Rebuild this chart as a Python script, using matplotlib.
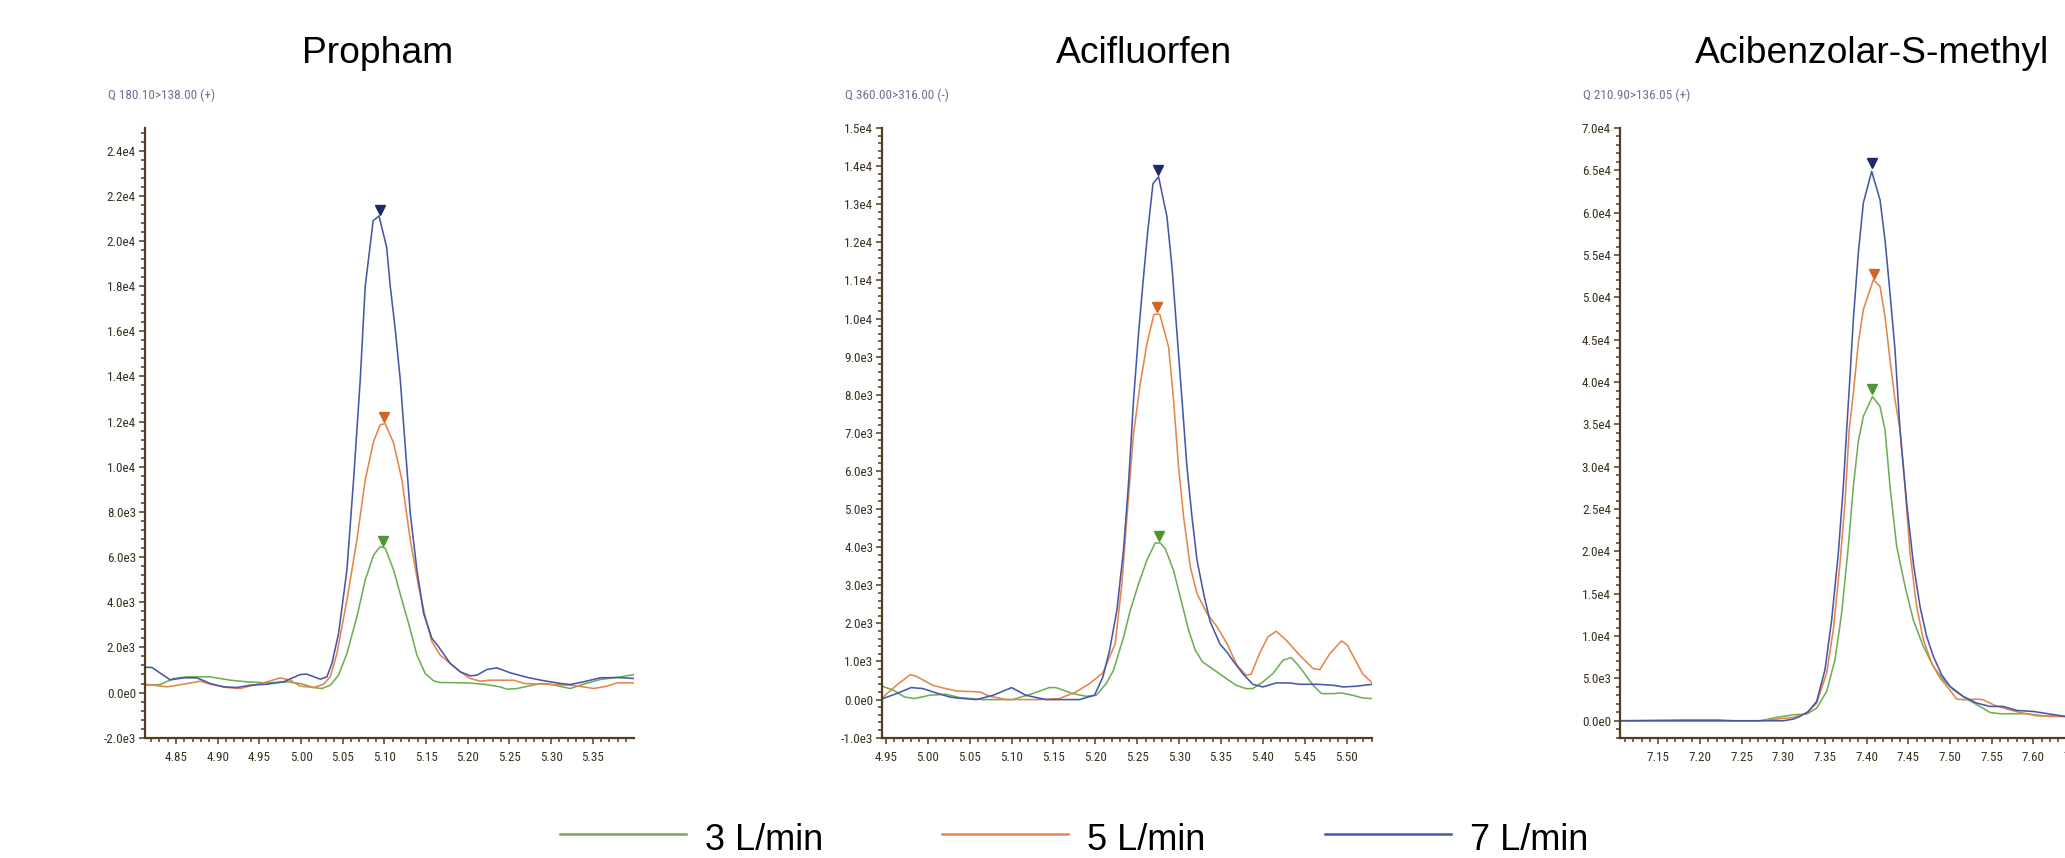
import math
import matplotlib
matplotlib.use("Agg")
import matplotlib.pyplot as plt
from matplotlib import font_manager as fm
from matplotlib.font_manager import FontProperties
from matplotlib.lines import Line2D
from matplotlib.textpath import text_to_path
from matplotlib.ticker import MultipleLocator, FuncFormatter

# ---- data (retention time, intensity) ----
titles = ["Propham", "Acifluorfen", "Acibenzolar-S-methyl"]
transitions = ["Q 180.10>138.00 (+)", "Q 360.00>316.00 (-)", "Q 210.90>136.05 (+)"]
flow_labels = ["3 L/min", "5 L/min", "7 L/min"]

# Propham
p1_x_green = [4.8127, 4.831, 4.847, 4.863, 4.891, 4.915, 4.935, 4.959, 4.983, 4.999, 5.015, 5.025, 5.035,
              5.045, 5.055, 5.067, 5.077, 5.087, 5.095, 5.101, 5.111, 5.121, 5.129, 5.139, 5.149, 5.159,
              5.167, 5.199, 5.219, 5.239, 5.247, 5.259, 5.287, 5.299, 5.323, 5.339, 5.359, 5.379, 5.40]
p1_y_green = [325, 355, 621, 695, 695, 547, 473, 429, 473, 399, 222, 177, 325,
              769, 1730, 3357, 4984, 6093, 6463, 6389, 5428, 4097, 3062, 1656, 843, 518,
              444, 429, 370, 251, 148, 177, 399, 370, 178, 370, 578, 666, 800]
p1_x_orange = [4.8127, 4.839, 4.859, 4.879, 4.891, 4.911, 4.927, 4.943, 4.959, 4.975, 4.987, 4.999, 5.015,
               5.027, 5.035, 5.043, 5.055, 5.067, 5.077, 5.087, 5.095, 5.101, 5.111, 5.121, 5.131, 5.141,
               5.149, 5.157, 5.167, 5.179, 5.191, 5.203, 5.215, 5.227, 5.255, 5.268, 5.292, 5.323, 5.339,
               5.351, 5.367, 5.379, 5.40]
p1_y_orange = [370, 251, 370, 503, 370, 222, 177, 325, 473, 651, 547, 281, 222,
               370, 695, 1730, 4097, 6759, 9421, 11122, 11861, 11906, 11048, 9421, 6759, 4688,
               3357, 2248, 1656, 1287, 917, 621, 503, 547, 547, 399, 370, 326, 252,
               178, 281, 429, 429]
p1_x_blue = [4.8127, 4.821, 4.843, 4.859, 4.875, 4.891, 4.907, 4.923, 4.939, 4.959, 4.979, 4.999, 5.007,
             5.023, 5.031, 5.037, 5.045, 5.055, 5.063, 5.071, 5.077, 5.0865, 5.0935, 5.1026, 5.107, 5.113,
             5.119, 5.125, 5.131, 5.139, 5.147, 5.157, 5.165, 5.179, 5.191, 5.203, 5.211, 5.223, 5.235,
             5.251, 5.272, 5.292, 5.312, 5.323, 5.339, 5.359, 5.379, 5.40]
p1_y_blue = [1120, 1109, 560, 651, 651, 400, 251, 222, 325, 370, 473, 799, 813,
             592, 695, 1287, 2618, 5428, 9421, 13858, 18000, 20900, 21100, 19733, 18000, 16077,
             13858, 10900, 7942, 5428, 3505, 2396, 2026, 1287, 917, 740, 769, 1021, 1094,
             873, 666, 518, 399, 355, 474, 652, 666, 622]

# Acifluorfen
p2_x_green = [4.9456, 4.959, 4.972, 4.984, 5.002, 5.022, 5.038, 5.066, 5.101, 5.125, 5.145, 5.153, 5.173,
              5.189, 5.201, 5.213, 5.2217, 5.2337, 5.2417, 5.2516, 5.2616, 5.2715, 5.2775, 5.2835, 5.2934,
              5.3014, 5.3114, 5.3194, 5.328, 5.348, 5.368, 5.380, 5.388, 5.400, 5.412, 5.424, 5.434,
              5.444, 5.460, 5.470, 5.484, 5.494, 5.507, 5.519, 5.5307]
p2_y_green = [350, 245, 70, 26, 114, 140, 52, 0, 0, 157, 315, 315, 157,
              87, 114, 420, 770, 1640, 2340, 3040, 3660, 4110, 4110, 3960, 3390,
              2690, 1820, 1290, 989, 682, 376, 289, 289, 464, 682, 1032, 1102,
              857, 376, 157, 157, 175, 114, 44, 26]
p2_x_orange = [4.9456, 4.9626, 4.979, 4.986, 5.006, 5.018, 5.034, 5.062, 5.074, 5.094, 5.133, 5.157, 5.177,
               5.193, 5.209, 5.2237, 5.2317, 5.2377, 5.2456, 5.2536, 5.2616, 5.270, 5.277, 5.2875, 5.2934,
               5.2994, 5.3054, 5.3134, 5.3214, 5.3333, 5.3453, 5.3572, 5.3692, 5.380, 5.386, 5.396, 5.406,
               5.416, 5.428, 5.444, 5.460, 5.468, 5.480, 5.494, 5.501, 5.519, 5.5307]
p2_y_orange = [50, 376, 656, 612, 376, 306, 227, 201, 87, 0, 0, 26, 201,
               420, 700, 1470, 3040, 4790, 6980, 8290, 9340, 10110, 10110, 9250, 7860,
               6100, 4790, 3480, 2780, 2260, 1910, 1470, 900, 639, 665, 1207, 1645,
               1794, 1557, 1164, 814, 787, 1207, 1540, 1426, 682, 437]
p2_x_blue = [4.9456, 4.9626, 4.980, 4.994, 5.010, 5.026, 5.034, 5.058, 5.078, 5.100, 5.117, 5.141, 5.181,
             5.199, 5.209, 5.217, 5.2257, 5.2336, 5.2396, 5.2456, 5.2516, 5.2568, 5.2623, 5.2688, 5.2755,
             5.2855, 5.2915, 5.2975, 5.3035, 5.3094, 5.3154, 5.3214, 5.3293, 5.337, 5.349, 5.357, 5.364,
             5.376, 5.388, 5.400, 5.416, 5.432, 5.444, 5.464, 5.484, 5.496, 5.511, 5.5307]
p2_y_blue = [20, 157, 315, 289, 175, 70, 44, 0, 114, 315, 114, 0, 0,
             114, 595, 1295, 2340, 3920, 5670, 7860, 9610, 10920, 12230, 13540, 13720,
             12670, 11350, 9610, 7860, 6100, 4790, 3660, 2780, 2050, 1450, 1250, 1032,
             682, 402, 332, 437, 437, 402, 402, 376, 332, 350, 402]

# Acibenzolar-S-methyl
p3_x_green = [7.104, 7.184, 7.22, 7.24, 7.272, 7.292, 7.312, 7.328, 7.34, 7.352, 7.362, 7.37, 7.378,
              7.384, 7.390, 7.396, 7.407, 7.416, 7.422, 7.428, 7.436, 7.446, 7.456, 7.468, 7.48,
              7.492, 7.504, 7.52, 7.536, 7.548, 7.56, 7.592, 7.612, 7.638, 7.69]
p3_y_green = [0, 118, 118, 0, 0, 394, 709, 787, 1496, 3465, 7205, 12717, 20591,
              27677, 33000, 35940, 38300, 37120, 34370, 27700, 20600, 15900, 11900, 8780, 6420,
              4840, 3660, 2560, 1690, 980, 830, 830, 590, 510, 400]
p3_x_orange = [7.104, 7.272, 7.292, 7.312, 7.328, 7.34, 7.352, 7.36, 7.368, 7.374, 7.379, 7.384, 7.390,
               7.396, 7.408, 7.416, 7.422, 7.428, 7.434, 7.440, 7.446, 7.452, 7.46, 7.468, 7.478,
               7.488, 7.498, 7.508, 7.518, 7.532, 7.54, 7.552, 7.568, 7.584, 7.604, 7.62, 7.638, 7.69]
p3_y_orange = [0, 0, 197, 394, 905, 2087, 5630, 10748, 18622, 25708, 34370, 38700, 44610,
               48540, 52080, 51300, 47750, 42640, 37910, 34370, 27700, 19800, 13500, 9570, 6810,
               5040, 3860, 2560, 2480, 2560, 2480, 1890, 1380, 980, 590, 510, 510, 450]
p3_x_blue = [7.104, 7.30, 7.312, 7.32, 7.33, 7.34, 7.35, 7.358, 7.366, 7.372, 7.376, 7.380, 7.384,
             7.390, 7.396, 7.406, 7.416, 7.422, 7.428, 7.434, 7.440, 7.448, 7.456, 7.464, 7.472,
             7.48, 7.49, 7.50, 7.516, 7.532, 7.548, 7.564, 7.58, 7.60, 7.62, 7.638, 7.66, 7.69]
p3_y_blue = [0, 0, 197, 512, 1102, 2283, 6024, 11929, 19803, 27677, 34370, 40670, 47360,
             55240, 61140, 64880, 61530, 56810, 50510, 43820, 34370, 25700, 18600, 13500, 9960,
             7600, 5430, 4060, 2870, 2090, 1690, 1690, 1220, 1100, 790, 510, 350, 300]

# apex markers (x, y) per panel, order green / orange / blue
apex_x = [[5.098, 5.099, 5.095], [5.2755, 5.2735, 5.2747], [7.407, 7.409, 7.406]]
apex_y = [[6690, 12180, 21360], [4290, 10290, 13910], [39180, 52790, 65870]]

panel_xlim = [(4.8127, 5.3995), (4.9456, 5.5307), (7.104, 7.692)]
panel_ylim = [(-2000, 25000), (-1000, 15000), (-2000, 70000)]
panel_ystep = [2000, 1000, 5000]

line_colors = ["#6fae55", "#e5854c", "#4757a8"]
marker_colors = ["#4f9535", "#d06622", "#1b2a68"]
AXIS_COLOR = "#4d3f1e"
LABEL_COLOR = "#3b3120"
Q_COLOR = "#6f6f93"
SANS = ["Liberation Sans", "Arial", "DejaVu Sans"]

W, H = 2065, 858


def narrow_font():
    # the chromatogram software uses a condensed face; take one if installed
    wanted = ["Liberation Sans Narrow", "Arial Narrow", "DejaVu Sans Condensed",
              "Roboto Condensed", "Open Sans Condensed", "Noto Sans Condensed"]
    entries = fm.fontManager.ttflist
    names = {f.name for f in entries}
    for n in wanted:
        if n in names:
            return FontProperties(family=n)
    for f in entries:
        if (f.stretch in ("condensed", "semi-condensed") and f.style == "normal"
                and f.weight in (400, "normal", "regular", "book")
                and any(k in f.name for k in ("Sans", "Roboto", "Lato", "Inter"))):
            return FontProperties(fname=f.fname)
    return FontProperties(family="Liberation Sans")


def fit_size(prop, text, target_px, max_pt):
    p = prop.copy()
    p.set_size(10)
    w, _, _ = text_to_path.get_text_width_height_descent(text, p, ismath=False)
    w_px = w * 100 / 72
    return min(max_pt, 10 * target_px / w_px)


def sci_label(v, pos=None):
    v = round(v)
    if v == 0:
        return "0.0e0"
    e = int(math.floor(math.log10(abs(v))))
    return f"{v / 10 ** e:.1f}e{e}"


def style_axis(ax, xlim, ylim, ystep, tick_prop):
    ax.set_xlim(*xlim)
    ax.set_ylim(*ylim)
    for side in ("top", "right"):
        ax.spines[side].set_visible(False)
    for side in ("left", "bottom"):
        ax.spines[side].set_color(AXIS_COLOR)
        ax.spines[side].set_linewidth(1.6)
    ax.xaxis.set_major_locator(MultipleLocator(0.05))
    ax.xaxis.set_minor_locator(MultipleLocator(0.01))
    ax.yaxis.set_major_locator(MultipleLocator(ystep))
    ax.yaxis.set_minor_locator(MultipleLocator(ystep / 5))
    ax.xaxis.set_major_formatter(FuncFormatter(lambda v, p: f"{v:.2f}"))
    ax.yaxis.set_major_formatter(FuncFormatter(sci_label))
    ax.tick_params(which="both", direction="out", color=AXIS_COLOR, width=1.1)
    ax.tick_params(which="major", length=4.5)
    ax.tick_params(which="minor", length=3)
    ax.tick_params(axis="x", which="major", pad=5)
    ax.tick_params(axis="y", which="major", pad=2)
    for lab in ax.get_xticklabels() + ax.get_yticklabels():
        lab.set_fontproperties(tick_prop)
        lab.set_color(LABEL_COLOR)


def main():
    base = narrow_font()
    tick_prop = base.copy()
    tick_prop.set_size(fit_size(base, "0.0e0", 29, 10.5))
    q_prop = base.copy()
    q_prop.set_size(fit_size(base, transitions[0], 108, 10.5))

    fig = plt.figure(figsize=(W / 100, H / 100), dpi=100)

    series = [
        [(p1_x_green, p1_y_green), (p1_x_orange, p1_y_orange), (p1_x_blue, p1_y_blue)],
        [(p2_x_green, p2_y_green), (p2_x_orange, p2_y_orange), (p2_x_blue, p2_y_blue)],
        [(p3_x_green, p3_y_green), (p3_x_orange, p3_y_orange), (p3_x_blue, p3_y_blue)],
    ]
    lefts = [145, 882.3, 1620]
    widths = [489, 490, 490]
    title_cx = [378, 1144, 1871.7]
    ax_bottom, ax_top = 737.7, 128

    for i in range(3):
        ax = fig.add_axes([lefts[i] / W, (H - ax_bottom) / H, widths[i] / W, (ax_bottom - ax_top) / H])
        ax.patch.set_alpha(0)
        for (xs, ys), c in zip(series[i], line_colors):
            ax.plot(xs, ys, color=c, lw=1.15)
        for k in range(3):
            ax.plot(apex_x[i][k], apex_y[i][k], marker="v", ms=7, color=marker_colors[k],
                    mec=marker_colors[k], ls="none")
        style_axis(ax, panel_xlim[i], panel_ylim[i], panel_ystep[i], tick_prop)

        fig.text((lefts[i] - 37) / W, 1 - 95.7 / H, transitions[i], fontproperties=q_prop,
                 color=Q_COLOR, ha="left", va="center")
        fig.text(title_cx[i] / W, 1 - 63.3 / H, titles[i], family=SANS, fontsize=26.8,
                 ha="center", va="baseline", color="black")

    # legend drawn across the bottom
    line_starts = [560, 941.7, 1325]
    for x0, c, lab in zip(line_starts, line_colors, flow_labels):
        fig.add_artist(Line2D([x0 / W, (x0 + 126) / W], [1 - 834 / H, 1 - 834 / H],
                              color=c, lw=1.8, transform=fig.transFigure))
        fig.text((x0 + 145) / W, 1 - 850 / H, lab, family=SANS, fontsize=26,
                 ha="left", va="baseline", color="black")

    fig.savefig("out.png", dpi=100)


if __name__ == "__main__":
    main()
